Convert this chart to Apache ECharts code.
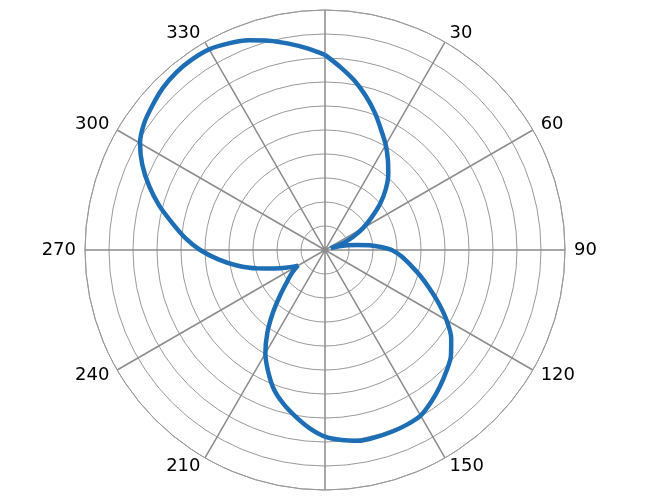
<!DOCTYPE html>
<html>
<head>
<meta charset="utf-8">
<script src="https://cdn.jsdelivr.net/npm/echarts@6/dist/echarts.min.js"></script>
<style>
html,body{margin:0;padding:0;background:#fff;}
#chart{width:645px;height:500px;}
</style>
</head>
<body>
<div id="chart"></div>
<script>
// Angles (degrees, clockwise from top) and radius values
const angles = [0, 5, 10, 15, 20, 25, 30, 35, 40, 45, 50, 55, 60, 65, 70, 72, 75, 78, 81, 84, 87, 90,
  95, 100, 105, 110, 115, 120, 125, 130, 135, 140, 145, 150, 155, 160, 165, 170, 175, 180,
  185, 190, 195, 200, 205, 210, 215, 220, 225, 230, 235, 240, 245, 250, 255, 260, 265, 270,
  275, 280, 285, 290, 295, 300, 305, 310, 315, 320, 325, 330, 335, 340, 345, 350, 355, 360];
const radii = [8.13, 7.63, 7.15, 6.62, 6.08, 5.53, 5.06, 4.57, 4.1, 3.58, 3.0, 2.37, 1.84, 1.28, 0.72, 0.25, 0.6, 0.95, 1.35, 1.85, 2.33, 2.78,
  3.22, 3.62, 4.1, 4.62, 5.22, 5.85, 6.42, 6.85, 7.15, 7.44, 7.72, 7.97, 8.04, 8.07, 8.08, 8.07, 7.95, 7.78,
  7.45, 7.05, 6.65, 6.2, 5.6, 4.97, 4.18, 3.35, 2.62, 2.07, 1.7, 1.3, 1.72, 2.24, 2.95, 3.72, 4.46, 5.2,
  5.85, 6.46, 7.15, 7.8, 8.4, 8.9, 9.2, 9.38, 9.55, 9.65, 9.68, 9.65, 9.5, 9.3, 9.03, 8.73, 8.43, 8.13];
const hiddenAngleLabels = [0, 180, 360];
const radiusMax = 10;
const radiusStep = 1;
const angleStep = 30;

const chart = echarts.init(document.getElementById('chart'), null, {renderer: 'canvas'});
chart.setOption({
  animation: false,
  backgroundColor: '#ffffff',
  polar: { center: [325, 250], radius: 240 },
  angleAxis: {
    type: 'value', min: 0, max: 360, interval: angleStep,
    startAngle: 90, clockwise: true,
    axisLine: { show: true, lineStyle: { color: '#9a9a9a', width: 1 } },
    axisTick: { show: false },
    splitLine: { show: true, lineStyle: { color: '#8c8c8c', width: 1.5 } },
    axisLabel: {
      show: true, margin: 9, color: '#000',
      fontFamily: 'DejaVu Sans', fontSize: 18, lineHeight: 2,
      formatter: v => hiddenAngleLabels.includes(v) ? '' : String(v)
    }
  },
  radiusAxis: {
    type: 'value', min: 0, max: radiusMax, interval: radiusStep,
    axisLine: { show: false }, axisTick: { show: false }, axisLabel: { show: false },
    splitLine: { show: true, lineStyle: { color: '#9a9a9a', width: 1 } }
  },
  series: [{
    type: 'line', coordinateSystem: 'polar',
    data: angles.map((a, i) => [radii[i], a]),
    smooth: 0.3, symbol: 'none', clip: false,
    lineStyle: { color: '#1E6EB5', width: 4.5 }
  }]
});
</script>
</body>
</html>
